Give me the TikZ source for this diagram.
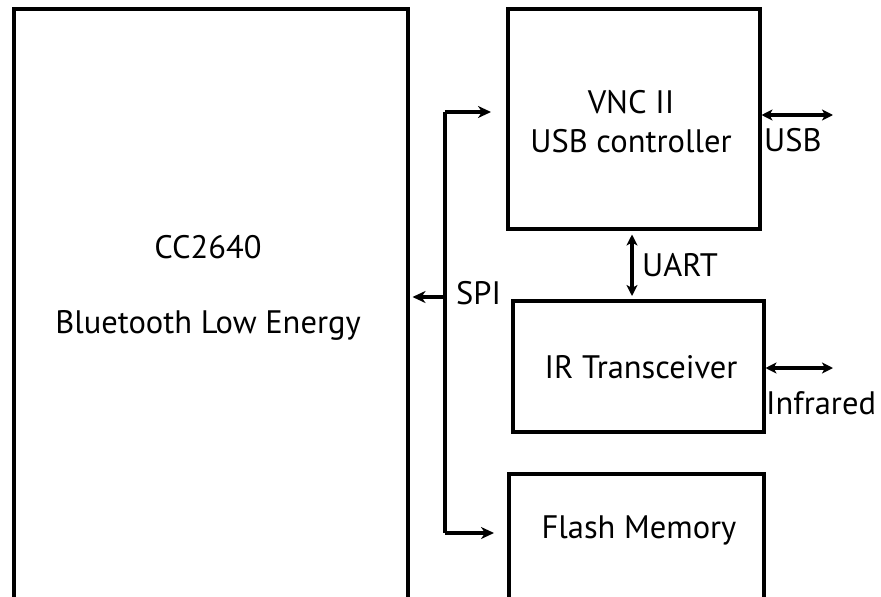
\documentclass[tikz,border=0pt]{standalone}
\usepackage{fontspec}
\setmainfont{PT Sans}
\usetikzlibrary{arrows.meta}
\begin{document}
\begin{tikzpicture}[x=1pt,y=-1pt,
  box/.style={draw=black,line width=3.5pt,rectangle,inner sep=0pt,anchor=north west},
  lbl/.style={font=\fontsize{32.5}{39}\selectfont,inner sep=0pt,align=center},
  tip/.style={-{Stealth[length=13pt,width=12pt,inset=4pt]}},
  dtip/.style={{Stealth[length=11pt,width=11pt,inset=3pt]}-{Stealth[length=11pt,width=11pt,inset=3pt]}},
  bus/.style={line width=4.5pt},
  conn/.style={line width=3.5pt}]
\useasboundingbox (0,0) rectangle (881,597);
\clip (0,0) rectangle (881,597);
\node[box,minimum width=394pt,minimum height=640pt] (cc) at (12,7) {};
\node[box,minimum width=252pt,minimum height=220pt] (vnc) at (506,7) {};
\node[box,minimum width=251pt,minimum height=131pt] (ir) at (511,299) {};
\node[box,minimum width=255pt,minimum height=200pt] (fl) at (507,472) {};
\node[lbl] (cct) at (208,247) {CC2640};
\node[lbl] (cct2) at (208,325) {Bluetooth Low Energy};
\node[lbl] (vnct) at (631,122) {VNC II\\USB controller};
\node[lbl] (irt) at (641,367) {IR Transceiver};
\node[lbl] (flt) at (639,530) {Flash Memory};
\coordinate (bt) at (445,112);
\coordinate (bb) at (445,533);
\coordinate (bm) at (445,297);
\coordinate (usbend) at (833,115);
\coordinate (irend) at (833,368);
\draw[bus] (bb) -- (bt);
\draw[bus,tip,shorten >=15pt] (bt) -- (vnc.west |- bt);
\draw[bus,tip,shorten >=13pt] (bb) -- (fl.west |- bb);
\draw[bus,tip,shorten >=3pt] (bm) -- (cc.east |- bm);
\node[lbl,anchor=west] (spi) at (456,293) {SPI};
\draw[conn,dtip] (vnc.east |- usbend) -- (usbend);
\node[lbl,anchor=west] (usb) at (764,140) {USB};
\draw[conn,dtip,shorten <=4pt,shorten >=3pt] (vnc.south -| 632,0) -- (ir.north -| 632,0);
\node[lbl,anchor=west] (uart) at (642,265) {UART};
\draw[conn,dtip] (ir.east |- irend) -- (irend);
\node[lbl,anchor=west] (irl) at (766,403) {Infrared};
\end{tikzpicture}
\end{document}
